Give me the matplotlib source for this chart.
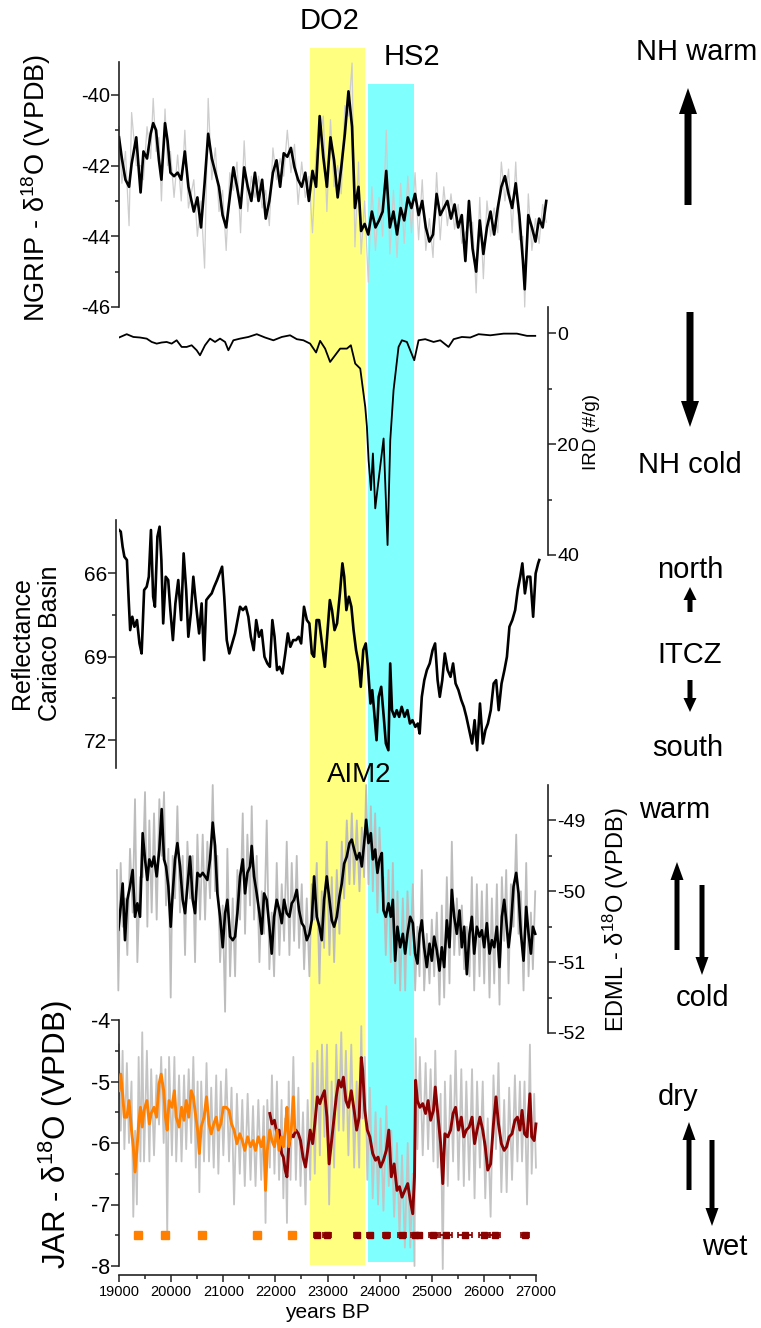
import numpy as np
import matplotlib
matplotlib.use('Agg')
import matplotlib.pyplot as plt
from matplotlib.patches import FancyArrow

plt.rcParams['font.family'] = ['Liberation Sans', 'DejaVu Sans']
plt.rcParams['mathtext.fontset'] = 'custom'
plt.rcParams['mathtext.rm'] = 'Liberation Sans'
plt.rcParams['mathtext.it'] = 'Liberation Sans:italic'
plt.rcParams['mathtext.bf'] = 'Liberation Sans:bold'
plt.rcParams['axes.unicode_minus'] = False

# ---------------- data ----------------
band_names = ['DO2', 'HS2']
band_start = [22655, 23770]
band_end = [23715, 24650]
band_colors = ['#ffff80', '#80ffff']

ngrip_years = [19000,19055,19124,19193,19242,19331,19414,19469,19538,19607,19656,19711,19766,19814,19883,
 19932,19987,20056,20125,20194,20263,20332,20435,20504,20573,20642,20711,20780,20849,20918,20987,21056,21125,
 21194,21263,21332,21401,21470,21539,21608,21677,21746,21815,21884,21953,22022,22091,22160,22229,22298,22367,
 22436,22505,22574,22643,22712,22781,22850,22919,22988,23057,23126,23195,23264,23333,23402,23471,23526,23595,
 23644,23713,23782,23851,23920,23989,24058,24127,24196,24265,24334,24403,24472,24541,24610,24679,24748,24817,
 24886,24955,25024,25093,25162,25231,25300,25369,25438,25507,25576,25645,25714,25783,25852,25921,25990,26059,
 26128,26197,26266,26335,26404,26473,26542,26611,26680,26749,26783,26852,26921,26990,27059,27128,27197]
ngrip_vals = [-41.2,-41.8,-42.4,-42.6,-41.95,-41.2,-42.76,-41.6,-41.8,-41.1,
 -40.8,-41.0,-41.85,-42.4,-40.8,-41.3,-42.2,-42.3,-42.2,-42.4,
 -41.6,-42.6,-43.3,-42.9,-43.75,-42.5,-41.1,-41.8,-42.2,-42.6,
 -43.4,-43.75,-42.9,-42.05,-42.6,-43.2,-42.05,-42.6,-43.0,-42.2,
 -43.0,-42.4,-43.5,-43.0,-42.2,-41.85,-42.6,-41.65,-41.75,-41.5,
 -42.05,-42.4,-42.6,-42.2,-43.0,-42.15,-42.6,-40.6,-41.75,-42.6,
 -41.2,-41.85,-42.9,-42.05,-41.1,-39.9,-40.9,-43.2,-42.6,-43.85,
 -43.65,-43.95,-43.3,-43.75,-43.55,-43.3,-42.15,-43.75,-43.3,-43.95,
 -43.2,-43.55,-42.9,-43.2,-42.8,-43.4,-43.0,-43.75,-44.15,-43.95,
 -42.8,-43.4,-43.2,-43.0,-43.5,-43.1,-43.75,-43.4,-44.7,-43.0,
 -44.35,-45.0,-43.55,-44.5,-43.75,-43.3,-43.95,-43.2,-42.6,-42.3,
 -42.8,-43.2,-42.5,-43.4,-44.7,-45.5,-43.4,-43.75,-44.15,-43.5,
 -43.75,-43.0]
ngrip_raw = [-40.9,-42.5,-41.6,-43.7,-40.5,-42.0,-42.0,-42.4,-40.9,-41.8,
 -40.1,-41.6,-41.2,-43.0,-40.4,-42.0,-41.6,-42.9,-41.7,-43.0,
 -41.0,-43.2,-42.4,-44.0,-43.0,-44.9,-40.1,-42.4,-41.5,-43.3,
 -42.7,-44.4,-42.2,-42.7,-41.9,-43.9,-41.3,-43.3,-42.3,-42.9,
 -42.3,-43.2,-42.7,-43.7,-41.5,-42.4,-41.8,-42.3,-41.0,-42.2,
 -41.4,-43.1,-41.9,-42.9,-42.3,-43.9,-41.6,-41.3,-40.6,-43.3,
 -40.7,-42.6,-42.0,-42.8,-40.3,-40.6,-39.1,-44.3,-41.9,-44.5,
 -43.0,-45.3,-42.6,-44.4,-42.9,-44.0,-41.0,-44.5,-42.7,-44.6,
 -42.5,-44.2,-42.3,-43.9,-42.2,-44.1,-42.4,-44.4,-43.5,-44.6,
 -42.2,-44.1,-42.6,-43.7,-42.8,-43.8,-43.1,-44.2,-43.9,-43.7,
 -43.6,-45.6,-42.9,-45.2,-43.0,-44.0,-43.2,-43.9,-41.9,-43.0,
 -42.1,-43.9,-41.9,-44.1,-44.0,-46.0,-42.8,-44.4,-43.5,-44.2,
 -43.1,-43.6]

ird_years = [19000,19148,19275,19403,19531,19627,19723,19818,19914,20010,20106,20202,20298,20394,20490,
 20554,20650,20746,20842,20938,21035,21098,21194,21322,21482,21643,21802,21962,22123,22282,22411,22538,22666,
 22781,22858,22954,23050,23146,23242,23372,23448,23532,23628,23724,23756,23788,23833,23871,23916,23980,24076,
 24152,24204,24267,24363,24427,24523,24664,24747,24875,25035,25163,25322,25419,25578,25738,25898,26123,26379,
 26634,26826,26985]
ird_vals = [0.8,0.2,0.7,0.8,1.0,1.6,1.9,1.7,1.6,1.9,1.3,2.5,2.5,2.2,3.1,4.0,2.2,1.0,1.6,1.0,
 1.6,3.1,1.3,1.0,0.7,0.2,0.8,1.3,0.7,0.4,1.1,1.3,1.9,3.5,1.4,2.8,5.2,4.0,2.8,2.8,
 2.2,5.5,6.4,13.3,16.9,22.9,28.3,21.7,31.6,26.5,19.0,38.2,19.3,10.3,2.5,1.3,1.6,4.9,1.3,1.1,
 1.6,1.3,2.5,1.1,0.7,0.8,0.2,0.4,0.1,0.1,0.5,0.5]

refl_years = [19000,19034,19069,19103,19152,19186,19214,19255,19296,19345,19393,19434,19482,19531,19572,
 19613,19655,19689,19737,19779,19813,19848,19896,19944,19985,20034,20082,20137,20192,20240,20289,20330,20378,
 20426,20482,20537,20585,20633,20675,20723,20778,20826,20881,20929,20978,21019,21067,21116,21171,21226,21274,
 21322,21377,21433,21481,21529,21584,21632,21687,21736,21791,21846,21894,21942,21984,22032,22080,22135,22190,
 22239,22287,22342,22397,22446,22494,22549,22604,22652,22700,22742,22790,22838,22893,22949,22997,23045,23086,
 23135,23183,23238,23286,23321,23362,23410,23458,23500,23548,23596,23638,23686,23734,23775,23824,23858,23893,
 23941,23982,24030,24079,24120,24168,24203,24237,24285,24327,24375,24423,24478,24533,24582,24630,24685,24733,
 24768,24809,24857,24906,24961,25016,25064,25112,25154,25202,25250,25305,25360,25409,25457,25512,25567,25615,
 25664,25719,25774,25822,25870,25925,25980,26029,26077,26132,26187,26235,26284,26339,26394,26442,26490,26545,
 26600,26649,26697,26738,26787,26835,26890,26945,26993,27041,27062]
refl_vals = [64.44,64.5,65.04,65.4,65.52,66.96,68.04,67.56,67.92,67.68,
 68.52,68.88,66.6,66.48,66.12,64.44,66.84,67.2,64.68,64.32,
 65.52,67.8,66.12,66.24,67.32,68.4,67.08,66.24,67.68,65.28,
 66.6,68.28,67.44,66.12,67.2,68.16,67.08,69.12,66.96,66.84,
 66.72,66.48,66.24,66.0,65.76,66.84,68.4,68.88,68.52,68.16,
 67.68,67.2,67.32,67.2,67.56,68.28,68.76,67.68,68.28,68.04,
 69.0,69.24,69.36,67.68,68.28,69.48,69.36,69.6,68.88,68.16,
 68.64,68.4,68.4,68.28,68.52,67.2,67.68,67.8,68.88,69.0,
 67.68,67.68,68.52,69.36,68.16,66.96,67.32,68.04,67.8,66.72,
 65.64,66.12,67.32,66.84,67.2,68.04,68.76,69.24,70.08,68.76,
 68.52,69.36,70.68,70.2,70.92,72.0,70.44,70.08,71.16,72.12,
 72.36,69.24,70.92,71.16,70.92,71.16,70.8,71.16,70.92,71.4,
 71.28,71.52,71.4,71.76,70.44,69.84,69.48,69.24,68.76,68.52,
 69.84,70.44,69.84,68.88,69.48,69.72,69.24,69.96,70.2,70.56,
 70.8,71.16,71.64,72.12,71.28,72.36,70.68,72.12,71.64,71.4,
 70.92,69.96,69.84,70.92,69.96,69.48,69.0,67.92,67.68,67.32,
 66.6,66.12,65.64,66.72,66.12,66.12,67.56,66.0,65.64,65.52]

edml_years = [18960,18987,19032,19070,19115,19160,19211,19262,19307,19352,19403,19454,19499,19544,19582,
 19627,19672,19723,19774,19819,19864,19902,19947,19992,20030,20075,20120,20171,20222,20267,20312,20363,20414,
 20459,20504,20555,20606,20651,20695,20747,20798,20843,20887,20939,20990,21035,21079,21131,21182,21227,21271,
 21322,21374,21418,21463,21514,21546,21591,21642,21694,21738,21783,21834,21885,21930,21975,22026,22077,22122,
 22167,22218,22269,22314,22359,22410,22455,22506,22551,22602,22653,22698,22743,22794,22845,22890,22935,22986,
 23037,23082,23127,23178,23229,23274,23319,23370,23421,23466,23511,23562,23613,23658,23703,23741,23786,23831,
 23869,23914,23958,23997,24042,24074,24118,24170,24214,24253,24298,24342,24394,24445,24490,24534,24586,24637,
 24681,24726,24765,24809,24854,24905,24957,25001,25046,25097,25148,25193,25238,25289,25340,25385,25430,25481,
 25532,25577,25622,25673,25724,25769,25814,25865,25916,25961,26006,26057,26108,26153,26198,26249,26300,26345,
 26390,26428,26473,26518,26569,26620,26665,26710,26761,26812,26857,26902,26940,26985]
edml_vals = [-50.03,-50.55,-50.22,-49.89,-50.69,-50.12,-49.93,-49.70,-50.36,-50.17,
 -50.36,-49.18,-49.55,-49.84,-49.55,-49.65,-49.51,-49.79,-49.41,-48.84,
 -49.55,-49.65,-49.93,-50.50,-50.03,-49.55,-49.32,-49.65,-50.12,-50.31,
 -49.93,-49.51,-50.12,-50.31,-49.74,-49.79,-49.74,-49.79,-49.84,-49.55,
 -49.03,-49.36,-50.03,-50.36,-50.79,-50.31,-50.12,-50.64,-50.69,-50.64,
 -50.31,-49.79,-49.55,-50.03,-49.74,-49.65,-49.36,-49.79,-50.03,-50.31,
 -50.60,-50.03,-50.12,-50.50,-50.88,-50.36,-50.12,-50.27,-50.45,-50.12,
 -50.31,-50.36,-50.17,-50.12,-49.98,-50.27,-50.45,-50.50,-50.69,-50.60,
 -50.41,-49.79,-50.36,-50.50,-50.69,-50.12,-49.79,-50.12,-50.41,-50.50,
 -50.36,-50.08,-49.89,-49.61,-49.51,-49.32,-49.27,-49.41,-49.55,-49.46,
 -49.65,-49.32,-48.99,-49.32,-49.18,-49.55,-49.41,-49.74,-49.55,-49.46,
 -50.27,-50.36,-50.17,-50.36,-50.12,-50.98,-50.50,-50.79,-50.60,-50.88,
 -50.60,-50.36,-50.45,-50.88,-51.02,-50.60,-50.41,-50.79,-51.07,-50.74,
 -50.98,-50.64,-50.83,-51.12,-50.79,-51.07,-50.41,-50.79,-49.98,-50.36,
 -50.60,-50.27,-50.79,-50.50,-51.17,-50.60,-50.36,-50.88,-50.50,-50.64,
 -50.55,-50.79,-50.45,-50.88,-50.69,-50.79,-50.50,-51.07,-50.36,-50.12,
 -50.41,-50.79,-50.50,-49.93,-49.74,-50.03,-50.60,-50.98,-50.22,-50.60,
 -50.88,-50.50,-50.60]
edml_raw = [-49.7,-51.4,-49.6,-50.5,-50.1,-50.9,-49.4,-50.3,-48.7,-51.0,
 -49.8,-49.8,-48.6,-50.5,-49.0,-50.3,-48.9,-50.4,-48.7,-49.5,
 -48.6,-50.2,-49.4,-51.5,-49.5,-50.1,-48.8,-50.3,-49.5,-50.9,
 -49.3,-50.1,-49.5,-51.0,-49.2,-50.4,-49.2,-50.4,-49.3,-50.1,
 -48.5,-50.0,-49.5,-51.0,-50.2,-51.7,-49.4,-51.2,-50.1,-51.2,
 -49.7,-50.4,-48.9,-50.6,-49.2,-50.2,-48.8,-50.4,-49.5,-51.0,
 -50.0,-50.6,-49.0,-51.1,-50.3,-51.2,-49.6,-50.9,-49.9,-50.7,
 -49.3,-50.9,-49.6,-50.7,-49.5,-50.8,-49.9,-51.1,-50.1,-51.2,
 -49.9,-50.4,-49.6,-51.3,-50.0,-50.8,-49.3,-50.9,-49.8,-51.0,
 -49.7,-50.6,-49.3,-50.1,-49.0,-49.9,-48.9,-49.9,-49.0,-50.0,
 -49.1,-49.8,-48.5,-49.9,-48.8,-50.0,-48.9,-50.3,-49.1,-50.0,
 -49.8,-50.9,-49.7,-51.0,-49.6,-51.3,-50.0,-51.4,-50.1,-51.4,
 -50.0,-50.9,-49.9,-51.4,-50.5,-51.2,-49.7,-51.4,-50.6,-51.3,
 -50.4,-51.2,-50.3,-51.6,-50.2,-51.5,-49.8,-51.3,-49.3,-50.9,
 -50.1,-50.9,-50.2,-51.1,-50.5,-51.2,-49.8,-51.4,-49.9,-51.2,
 -50.0,-51.3,-49.9,-51.5,-50.1,-51.3,-49.9,-51.6,-49.8,-50.7,
 -49.7,-51.3,-49.9,-50.5,-49.2,-50.6,-50.0,-51.4,-49.6,-51.2,
 -50.3,-51.1,-50.0]

jar_orange_years = [19000,19034,19069,19103,19151,19192,19240,19274,19308,19343,19377,19411,19446,19480,
 19535,19583,19617,19672,19720,19768,19809,19857,19891,19925,19960,20015,20063,20097,20152,20200,20248,20289,
 20337,20385,20426,20474,20508,20542,20577,20631,20679,20727,20769,20817,20865,20906,20954,21002,21057,21111,
 21159,21207,21262,21317,21365,21413,21468,21523,21571,21619,21673,21728,21776,21811,21845,21893,21934,21982,
 22030,22071,22119,22153,22188,22222,22256,22304,22345,22373]
jar_orange_vals = [-5.15,-4.88,-5.2,-5.58,-5.58,-5.31,-5.79,-6.06,-6.47,-6.12,
 -5.69,-5.42,-5.74,-5.47,-5.31,-5.69,-5.52,-5.42,-5.58,-5.04,
 -4.88,-5.15,-5.58,-5.79,-5.31,-5.42,-5.15,-5.58,-5.74,-5.42,
 -5.63,-5.31,-5.58,-5.15,-5.25,-5.58,-5.79,-6.17,-5.74,-5.58,
 -5.25,-5.69,-5.85,-5.69,-5.58,-5.79,-5.69,-5.42,-5.42,-5.47,
 -5.69,-5.79,-6.01,-5.85,-5.96,-6.12,-5.90,-6.06,-5.96,-6.12,
 -5.90,-6.06,-5.90,-6.77,-6.12,-5.79,-5.96,-6.06,-5.79,-6.12,
 -5.90,-6.06,-5.79,-5.42,-6.06,-5.79,-5.25,-5.79]
jar_red_years = [21893,21934,21982,22030,22071,22119,22153,22188,22222,22256,22290,22345,22393,22441,22482,
 22530,22578,22619,22667,22715,22756,22805,22853,22894,22942,22990,23031,23079,23127,23168,23216,23264,23305,
 23353,23401,23456,23511,23559,23607,23648,23675,23716,23764,23812,23867,23922,23970,24018,24073,24128,24176,
 24224,24278,24333,24381,24429,24484,24539,24587,24635,24669,24690,24724,24772,24827,24882,24930,24978,25032,
 25067,25115,25170,25211,25252,25307,25361,25409,25457,25512,25567,25615,25663,25718,25773,25821,25869,25924,
 25978,26026,26074,26129,26184,26232,26280,26335,26389,26437,26485,26540,26595,26643,26691,26732,26780,26828,
 26883,26917,26965,26999]
jar_red_vals = [-5.52,-5.69,-5.63,-5.85,-5.79,-6.17,-6.23,-6.44,-6.55,-6.06,
 -5.85,-5.90,-5.79,-5.85,-5.96,-6.23,-6.39,-6.12,-5.79,-6.01,
 -5.69,-5.25,-5.36,-5.25,-5.15,-5.58,-6.34,-5.96,-5.58,-5.25,
 -4.98,-5.09,-4.93,-5.31,-5.42,-5.15,-5.47,-5.79,-5.58,-4.61,
 -4.82,-5.47,-5.79,-5.90,-6.17,-6.28,-6.23,-6.39,-6.28,-6.12,
 -5.79,-6.55,-6.34,-6.77,-6.71,-6.88,-6.77,-6.66,-6.93,-7.15,
 -6.55,-4.98,-5.31,-5.42,-5.36,-5.52,-5.31,-5.63,-5.47,-5.09,
 -5.52,-6.01,-6.66,-5.85,-5.90,-5.79,-5.52,-5.42,-5.79,-5.58,
 -5.90,-5.79,-5.74,-5.58,-6.01,-5.79,-5.58,-5.79,-6.06,-6.44,
 -6.34,-5.69,-5.25,-5.69,-6.01,-6.12,-6.06,-5.90,-5.85,-5.63,
 -5.58,-5.79,-5.47,-5.85,-5.90,-5.20,-5.90,-5.96,-5.69]
jar_raw_early = [-4.4,-5.8,-4.5,-6.1,-4.7,-6.0,-5.0,-7.2,-5.8,-7.0,
 -4.6,-6.3,-4.2,-6.3,-4.5,-6.3,-4.8,-6.2,-4.9,-5.7,
 -4.6,-6.0,-4.8,-7.5,-4.6,-6.2,-4.6,-6.3,-4.9,-6.3,
 -4.9,-6.1,-4.8,-6.0,-4.6,-6.4,-5.0,-6.8,-5.0,-6.3,
 -4.7,-6.3,-5.1,-6.4,-4.9,-6.5,-5.0,-6.2,-4.8,-6.3,
 -5.1,-7.0,-5.2,-6.5,-5.3,-6.7,-5.2,-6.6,-5.4,-6.7,
 -5.3,-6.6,-5.4,-7.3,-5.3]
jar_raw_late = [-6.4,-4.9,-6.5,-5.0,-6.6,-5.3,-6.9,-5.6,-7.3,-5.0,
 -6.6,-4.6,-6.6,-5.1,-6.7,-5.5,-7.0,-5.3,-6.6,-4.7,
 -6.5,-4.5,-6.2,-4.4,-5.9,-4.4,-7.0,-5.0,-6.4,-4.4,
 -5.8,-4.2,-5.8,-4.5,-6.2,-4.4,-6.4,-5.0,-6.4,-4.1,
 -5.6,-4.6,-6.6,-5.1,-6.9,-5.5,-7.0,-5.6,-7.1,-5.4,
 -6.7,-5.8,-7.2,-6.0,-7.5,-6.2,-7.7,-6.0,-7.7,-6.5,
 -8.0,-4.3,-6.1,-4.6,-6.2,-4.7,-6.1,-4.8,-6.3,-4.5,
 -6.4,-5.2,-8.05,-5.0,-6.7,-4.9,-6.3,-4.5,-6.6,-4.8,
 -6.7,-5.0,-6.6,-4.8,-6.9,-5.0,-6.4,-5.0,-6.9,-5.6,
 -7.2,-4.9,-6.1,-4.7,-6.8,-5.3,-6.8,-5.1,-6.6,-4.9,
 -6.3,-5.0,-6.3,-5.0,-7.0,-4.4,-6.5,-5.2,-6.4]

orange_dates = [19363, 19891, 20597, 21646, 22325]
orange_date_err = [70, 80, 60, 80, 60]
red_dates = [22805, 22990, 23572, 23812, 24128, 24429, 24676, 24758, 25032, 25272, 25635, 26006, 26218, 26794]
red_date_err = [60, 80, 60, 60, 70, 80, 80, 60, 90, 120, 140, 100, 100, 80]
date_level = -7.5

x_ticks = [19000, 20000, 21000, 22000, 23000, 24000, 25000, 26000, 27000]

# ---------------- layout ----------------
W, H = 761, 1328
fig = plt.figure(figsize=(W / 100, H / 100), dpi=100)
XL, XR = 119, 548
XLIM = (19000, 27230)
AXC = '#222222'


def rect(l, t, r, b):
    return [l / W, 1 - b / H, (r - l) / W, (b - t) / H]


def pair(a, b):
    n = min(len(a), len(b))
    return np.asarray(a[:n], float), np.asarray(b[:n], float)


# background bands
axb = fig.add_axes(rect(XL, 0, XR, H), zorder=0)
axb.set_xlim(XLIM)
axb.set_ylim(H, 0)
axb.axis('off')
band_top = [48, 84]
band_bot = [1265, 1262]
for s, e, c, t, b in zip(band_start, band_end, band_colors, band_top, band_bot):
    axb.bar(s, b - t, bottom=t, width=e - s, align='edge', color=c, lw=0)


def panel(top, bot, ylim, side, major, minor, fs, z, offset=0):
    ax = fig.add_axes(rect(XL, top, XR, bot), zorder=z)
    ax.set_facecolor('none')
    ax.set_xlim(XLIM)
    ax.set_ylim(ylim)
    for sp in ['top', 'bottom', 'left', 'right']:
        ax.spines[sp].set_visible(False)
    ax.spines[side].set_visible(True)
    ax.spines[side].set_color(AXC)
    ax.spines[side].set_linewidth(1.2)
    if offset:
        ax.spines[side].set_position(('outward', offset))
    ax.tick_params(axis='x', which='both', bottom=False, top=False,
                   labelbottom=False, labeltop=False)
    ax.yaxis.set_ticks_position(side)
    ax.set_yticks(major)
    ax.set_yticks(minor, minor=True)
    ax.set_yticklabels([('%g' % v) for v in major])
    ax.tick_params(axis='y', which='major', length=5.5, width=1.1, color=AXC,
                   labelsize=fs, pad=1, direction='out')
    ax.tick_params(axis='y', which='minor', length=3, width=1.1, color=AXC, direction='out')
    return ax


# NGRIP
ax1 = panel(62, 307, (-46, -39.07), 'left', [-46, -44, -42, -40], [-45, -43, -41], 14.5, 2)
x, y = pair(ngrip_years, ngrip_raw)
ax1.plot(x, y, color='#cdcdcd', lw=0.9, clip_on=False, zorder=1)
x, y = pair(ngrip_years, ngrip_vals)
ax1.plot(x, y, color='black', lw=1.9, zorder=2)

# IRD
ax2 = panel(307, 555, (40, -4.7), 'right', [0, 20, 40], [10, 30], 14, 3)
x, y = pair(ird_years, ird_vals)
ax2.plot(x, y, color='black', lw=1.3)

# Reflectance
ax3 = panel(520, 768, (73.0, 64.08), 'left', [66, 69, 72], [67.5, 70.5], 15, 4, offset=2.2)
x, y = pair(refl_years, refl_vals)
ax3.plot(x, y, color='black', lw=1.9)

# EDML
ax4 = panel(785, 1033, (-52, -48.5), 'right', [-52, -51, -50, -49], [-51.5, -50.5, -49.5], 14, 5)
x, y = pair(edml_years, edml_raw)
ax4.plot(x, y, color='#bdbdbd', lw=1.3, clip_on=False, zorder=1)
x, y = pair(edml_years, edml_vals)
ax4.plot(x, y, color='black', lw=1.9, zorder=2)

# JAR
ax5 = panel(1020, 1266, (-8, -4), 'left', [-8, -7, -6, -5, -4], [-7.5, -6.5, -5.5, -4.5], 15.5, 6)
jar_raw_years = [v for v in jar_orange_years if v < jar_red_years[0]] + jar_red_years
x, y = pair(jar_raw_years, jar_raw_early + jar_raw_late)
ax5.plot(x, y, color='#c4c4c4', lw=1.3, clip_on=False, zorder=1)
x, y = pair(jar_red_years, jar_red_vals)
ax5.plot(x, y, color='#8b0000', lw=2.1, zorder=2)
x, y = pair(jar_orange_years, jar_orange_vals)
ax5.plot(x, y, color='#ff8000', lw=2.1, zorder=3)
ax5.errorbar(orange_dates, [date_level] * len(orange_dates), xerr=orange_date_err, fmt='s',
             color='#ff8000', ms=5.5, elinewidth=4.5, capsize=0, zorder=4)
ax5.errorbar(red_dates, [date_level] * len(red_dates), xerr=red_date_err, fmt='s',
             color='#8b0000', ms=5, elinewidth=1.3, capsize=2, capthick=1.2, zorder=4)
ax5.spines['bottom'].set_visible(True)
ax5.spines['bottom'].set_color(AXC)
ax5.spines['bottom'].set_linewidth(1.2)
ax5.spines['bottom'].set_position(('outward', 6.5))
ax5.spines['bottom'].set_bounds(19000, 27000)
ax5.tick_params(axis='x', which='both', bottom=True, labelbottom=True)
ax5.set_xticks(x_ticks)
ax5.set_xticklabels([str(v) for v in x_ticks])
ax5.set_xticks([v + 500 for v in x_ticks[:-1]], minor=True)
ax5.tick_params(axis='x', which='major', length=5, width=1.1, color=AXC, labelsize=10.5, pad=2)
ax5.tick_params(axis='x', which='minor', length=3, width=1.1, color=AXC)

# ---------------- overlay text & arrows ----------------
axo = fig.add_axes([0, 0, 1, 1], zorder=10)
axo.set_facecolor('none')
axo.set_xlim(0, W)
axo.set_ylim(H, 0)
axo.axis('off')

axo.text(330, 21, band_names[0], ha='center', va='center', fontsize=21)
axo.text(412, 57, band_names[1], ha='center', va='center', fontsize=21)
axo.text(359, 775, 'AIM2', ha='center', va='center', fontsize=20)

axo.text(36, 188, 'NGRIP - δ$^{18}$O (VPDB)', rotation=90, ha='center', va='center', fontsize=19.5)
axo.text(592, 432, 'IRD (#/g)', rotation=90, ha='center', va='center', fontsize=13.5)
axo.text(22, 643, 'Reflectance', rotation=90, ha='center', va='center', fontsize=18)
axo.text(50, 643, 'Cariaco Basin', rotation=90, ha='center', va='center', fontsize=18)
axo.text(616, 920, 'EDML - δ$^{18}$O (VPDB)', rotation=90, ha='center', va='center', fontsize=17)
axo.text(56, 1135, 'JAR - δ$^{18}$O (VPDB)', rotation=90, ha='center', va='center', fontsize=22.5)
axo.text(327, 1313, 'years BP', ha='center', va='center', fontsize=15)

right_texts = [('NH warm', 697, 52), ('NH cold', 690, 465), ('north', 690, 570), ('ITCZ', 690, 655),
               ('south', 688, 748), ('warm', 675, 810), ('cold', 703, 998), ('dry', 678, 1097),
               ('wet', 725, 1247)]
for t, xx, yy in right_texts:
    axo.text(xx, yy, t, ha='center', va='center', fontsize=21)

arrows = [(688, 205, 88, 7, 18, 26), (690, 312, 427, 7, 18, 26),
          (690, 612, 587, 5, 13, 13), (690, 680, 712, 5, 13, 14),
          (677, 950, 862, 5, 13, 18), (702, 885, 975, 5, 13, 18),
          (689, 1190, 1122, 5, 13, 18), (712, 1140, 1226, 5, 13, 18)]
for xx, y0, y1, w, hw, hl in arrows:
    axo.add_patch(FancyArrow(xx, y0, 0, y1 - y0, width=w, head_width=hw, head_length=hl,
                             length_includes_head=True, color='black', lw=0))

fig.savefig('out.png', dpi=100)
